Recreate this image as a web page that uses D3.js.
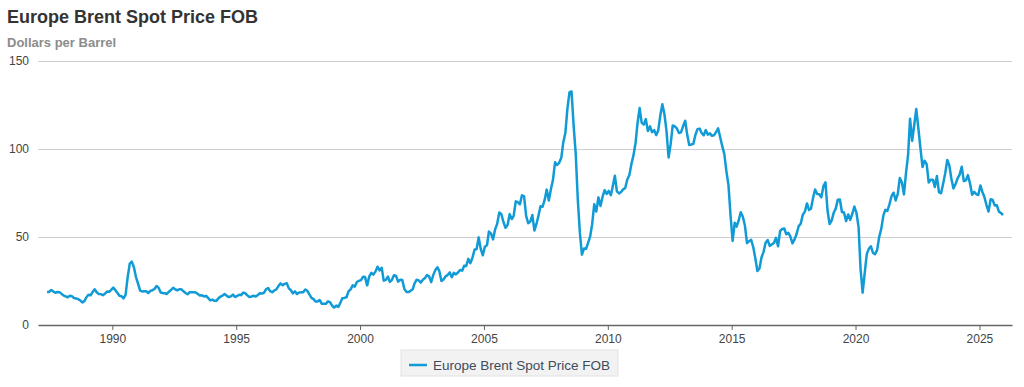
<!DOCTYPE html>
<html>
<head>
<meta charset="utf-8">
<script src="https://cdn.jsdelivr.net/npm/d3@7"></script>
<style>
  body { margin: 0; background: #fff; }
  svg { display: block; font-family: "Liberation Sans", Arial, sans-serif; }
</style>
</head>
<body>
<div id="chart"></div>
<script>
const title = 'Europe Brent Spot Price FOB';
const unitLabel = 'Dollars per Barrel';
const seriesName = 'Europe Brent Spot Price FOB';

// first month of the series (1987 row starts in May)
const firstMonth = 5;
const years = [1987, 1988, 1989, 1990, 1991, 1992, 1993, 1994, 1995, 1996,
  1997, 1998, 1999, 2000, 2001, 2002, 2003, 2004, 2005, 2006, 2007, 2008,
  2009, 2010, 2011, 2012, 2013, 2014, 2015, 2016, 2017, 2018, 2019, 2020,
  2021, 2022, 2023, 2024, 2025];

// monthly prices, one row per year
const prices = [
  [18.58, 18.86, 19.86, 18.98, 18.31, 18.76, 18.67, 17.67],
  [16.75, 16.20, 15.76, 16.60, 16.31, 15.36, 15.10, 14.71, 13.95, 12.86, 13.58, 15.75],
  [17.19, 16.89, 18.70, 20.32, 18.63, 17.67, 17.54, 16.98, 17.78, 19.05, 18.81, 19.93],
  [21.25, 19.81, 18.39, 16.61, 16.35, 15.10, 17.17, 27.17, 34.90, 36.02, 32.82, 27.36],
  [23.57, 19.54, 19.08, 19.18, 19.19, 18.17, 19.40, 19.77, 20.45, 22.19, 21.04, 18.47],
  [18.16, 18.05, 17.63, 18.92, 19.89, 21.16, 20.25, 19.74, 20.27, 20.30, 19.13, 18.18],
  [17.45, 18.63, 18.60, 18.57, 18.53, 17.64, 16.80, 16.86, 16.23, 16.55, 15.25, 13.96],
  [14.40, 13.75, 13.71, 15.24, 16.18, 16.76, 17.63, 16.55, 15.87, 16.29, 17.26, 15.87],
  [16.49, 17.18, 16.96, 18.43, 18.04, 16.84, 15.94, 16.22, 16.60, 16.21, 16.99, 18.01],
  [17.82, 18.32, 20.30, 21.00, 19.21, 18.64, 19.61, 20.23, 22.13, 23.63, 22.61, 23.37],
  [23.68, 20.82, 19.90, 17.99, 19.12, 17.59, 18.40, 18.61, 18.65, 20.16, 19.43, 17.40],
  [15.43, 14.71, 13.36, 13.34, 14.23, 12.14, 12.01, 12.03, 13.39, 12.97, 11.03, 9.82],
  [11.09, 10.29, 12.49, 15.23, 15.38, 15.76, 19.14, 20.26, 22.50, 21.79, 24.42, 25.04],
  [25.49, 27.44, 27.22, 22.52, 27.47, 29.62, 28.65, 30.33, 33.13, 30.96, 32.54, 25.20],
  [25.63, 27.50, 24.50, 25.66, 28.31, 27.85, 24.61, 25.68, 25.62, 20.54, 18.80, 18.71],
  [19.42, 20.28, 23.70, 25.73, 25.35, 24.08, 25.74, 26.65, 28.40, 27.54, 24.34, 28.33],
  [31.18, 32.77, 30.61, 25.00, 25.86, 27.65, 28.35, 29.89, 27.11, 29.61, 28.75, 29.81],
  [31.28, 30.86, 33.63, 33.59, 37.57, 35.18, 38.22, 42.74, 43.20, 49.78, 43.11, 39.60],
  [44.51, 45.48, 53.10, 51.88, 48.65, 54.35, 57.52, 63.98, 62.91, 58.54, 55.24, 56.86],
  [62.99, 60.21, 62.06, 70.26, 69.78, 68.56, 73.67, 73.23, 61.96, 57.81, 58.76, 62.47],
  [53.68, 57.56, 62.05, 67.49, 67.21, 71.05, 76.93, 70.76, 77.17, 82.34, 92.41, 90.93],
  [92.18, 94.99, 103.64, 109.07, 122.80, 132.32, 132.72, 113.24, 97.23, 71.58, 52.45, 39.95],
  [43.44, 43.32, 46.54, 50.18, 57.30, 68.61, 64.44, 72.51, 67.65, 72.77, 76.66, 74.46],
  [76.17, 73.75, 78.83, 84.82, 75.95, 74.76, 75.58, 77.04, 77.84, 82.67, 85.28, 91.45],
  [96.52, 103.72, 114.64, 123.26, 114.99, 113.83, 116.97, 110.22, 112.83, 109.55, 110.77, 107.87],
  [110.69, 119.33, 125.45, 119.75, 110.34, 95.16, 102.62, 113.36, 112.86, 111.71, 109.06, 109.49],
  [112.96, 116.05, 108.47, 102.25, 102.56, 102.92, 107.93, 111.28, 111.60, 109.08, 107.79, 110.76],
  [108.12, 108.90, 107.48, 107.76, 109.54, 111.80, 106.77, 101.61, 97.09, 87.43, 79.44, 62.34],
  [47.76, 58.10, 55.89, 59.52, 64.08, 61.48, 56.56, 46.52, 47.62, 48.43, 44.27, 38.01],
  [30.70, 32.18, 38.21, 41.58, 46.74, 48.25, 44.95, 45.84, 46.57, 49.52, 44.73, 53.31],
  [54.58, 54.87, 51.59, 52.31, 50.33, 46.37, 48.48, 51.70, 56.15, 57.51, 62.71, 64.37],
  [69.08, 65.32, 66.02, 72.11, 76.98, 74.41, 74.25, 72.53, 78.89, 81.03, 64.75, 57.36],
  [59.41, 63.96, 66.14, 71.23, 71.32, 64.22, 63.92, 59.04, 62.83, 59.71, 63.21, 67.31],
  [63.65, 55.66, 32.01, 18.38, 29.38, 40.27, 43.24, 44.74, 40.91, 40.19, 42.69, 49.99],
  [54.77, 62.28, 65.41, 64.81, 68.53, 73.16, 75.17, 70.75, 74.49, 83.54, 81.05, 74.17],
  [86.51, 97.13, 117.25, 104.58, 113.34, 122.71, 111.93, 100.45, 89.76, 93.33, 91.42, 80.92],
  [82.50, 82.59, 78.43, 84.64, 75.47, 74.84, 80.11, 86.15, 93.72, 90.60, 82.94, 77.63],
  [80.12, 83.48, 85.41, 89.94, 81.75, 82.25, 85.15, 80.36, 74.02, 75.63, 74.35, 73.86],
  [79.27, 75.44, 72.73, 68.13, 64.45, 71.44, 71.04, 67.87, 67.99, 64.40, 63.60, 62.50]
];

const yTicks = [0, 50, 100, 150];
const xTickYears = [1990, 1995, 2000, 2005, 2010, 2015, 2020, 2025];

const width = 1024, height = 387;
const plot = { left: 38, right: 1012, top: 61, bottom: 325 };

const data = [];
years.forEach((yr, i) => {
  const start = i === 0 ? firstMonth - 1 : 0;
  prices[i].forEach((v, j) => {
    data.push({ date: new Date(yr, start + j, 15), value: v });
  });
});

const svg = d3.select('#chart').append('svg')
  .attr('width', width)
  .attr('height', height);

const x = d3.scaleTime()
  .domain([new Date(1987, 0, 1), new Date(2026, 3, 26)])
  .range([plot.left, plot.right]);

const y = d3.scaleLinear()
  .domain([0, 150])
  .range([plot.bottom, plot.top]);

// title block
svg.append('text')
  .attr('x', 7)
  .attr('y', 23)
  .attr('fill', '#333')
  .attr('font-size', '18px')
  .attr('font-weight', 'bold')
  .text(title);

svg.append('text')
  .attr('x', 7)
  .attr('y', 47)
  .attr('fill', '#8c8c8c')
  .attr('font-size', '13px')
  .attr('font-weight', 'bold')
  .text(unitLabel);

// grid + y labels
const yAxis = svg.append('g')
  .attr('class', 'axis axis--y')
  .attr('transform', `translate(${plot.left},0)`)
  .call(d3.axisLeft(y).tickValues(yTicks.slice(1)).tickSize(-(plot.right - plot.left)).tickPadding(9));
yAxis.select('.domain').remove();
yAxis.selectAll('line').attr('stroke', '#cfcfcf').attr('stroke-width', 1);
yAxis.selectAll('text').attr('fill', '#444').attr('font-size', '12px');

// zero label drawn with the same axis style
svg.append('g')
  .attr('transform', `translate(${plot.left},0)`)
  .call(d3.axisLeft(y).tickValues([0]).tickSize(0).tickPadding(9))
  .call(g => g.select('.domain').remove())
  .selectAll('text').attr('fill', '#444').attr('font-size', '12px');

// x axis
const xAxis = svg.append('g')
  .attr('class', 'axis axis--x')
  .attr('transform', `translate(0,${plot.bottom})`)
  .call(d3.axisBottom(x)
    .tickValues(xTickYears.map(yr => new Date(yr, 0, 1)))
    .tickFormat(d3.timeFormat('%Y'))
    .tickSize(5)
    .tickSizeOuter(0)
    .tickPadding(4));
xAxis.select('.domain').attr('stroke', '#666').attr('stroke-width', 1.5);
xAxis.selectAll('line').attr('stroke', '#666');
xAxis.selectAll('text').attr('fill', '#444').attr('font-size', '12px');

// series line
const line = d3.line()
  .x(d => x(d.date))
  .y(d => y(d.value));

svg.append('path')
  .datum(data)
  .attr('fill', 'none')
  .attr('stroke', '#119bd6')
  .attr('stroke-width', 2.5)
  .attr('stroke-linejoin', 'round')
  .attr('d', line);

// legend
const legend = svg.append('g')
  .attr('transform', 'translate(401,350)');

legend.append('rect')
  .attr('width', 217)
  .attr('height', 26)
  .attr('fill', '#f2f2f2')
  .attr('stroke', '#e2e2e2');

legend.append('line')
  .attr('x1', 8)
  .attr('x2', 26)
  .attr('y1', 15)
  .attr('y2', 15)
  .attr('stroke', '#119bd6')
  .attr('stroke-width', 2.5);

legend.append('text')
  .attr('x', 32)
  .attr('y', 19.5)
  .attr('fill', '#3e4b5b')
  .attr('font-size', '13.5px')
  .text(seriesName);
</script>
</body>
</html>
